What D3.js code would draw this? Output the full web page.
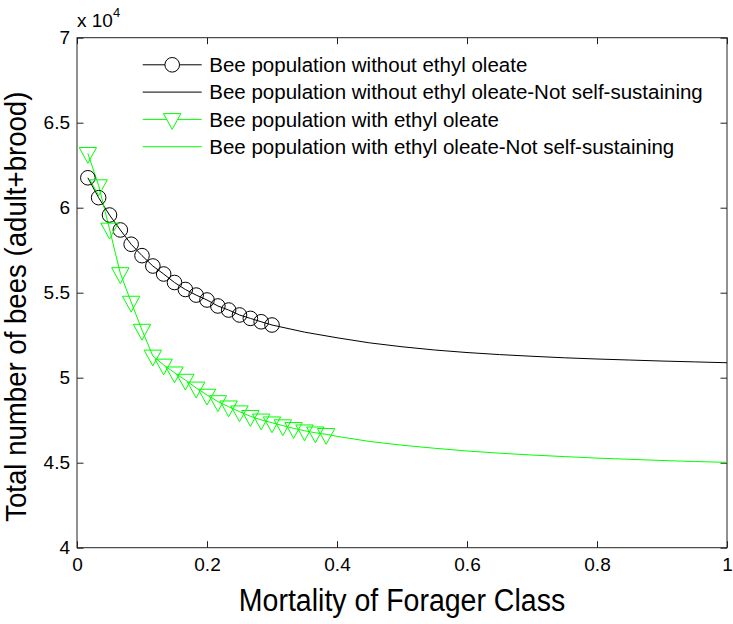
<!DOCTYPE html>
<html>
<head>
<meta charset="utf-8">
<script src="https://cdn.jsdelivr.net/npm/d3@7"></script>
<style>
  html, body { margin: 0; padding: 0; background: #fff; }
  svg { display: block; }
  text { font-family: "Liberation Sans", Arial, Helvetica, sans-serif; fill: #000; }
</style>
</head>
<body>
<svg id="chart" width="733" height="624"></svg>
<script>
// ---- data (values in units of 10^4 bees) ----
const circleX = [0.0167, 0.0333, 0.05, 0.0667, 0.0833, 0.10, 0.1167, 0.1333, 0.15,
                 0.1667, 0.1833, 0.20, 0.2167, 0.2333, 0.25, 0.2667, 0.2833, 0.30];
const circleY = [6.176, 6.059, 5.957, 5.869, 5.785, 5.718, 5.657, 5.610, 5.560,
                 5.519, 5.486, 5.457, 5.422, 5.398, 5.369, 5.349, 5.329, 5.310];

const blackTailX = [0.30, 0.35, 0.40, 0.45, 0.50, 0.55, 0.60, 0.65, 0.70, 0.75, 0.80, 0.85, 0.90, 0.95, 1.00];
const blackTailY = [5.310, 5.268, 5.235, 5.205, 5.182, 5.163, 5.148, 5.136, 5.126, 5.117, 5.110, 5.104, 5.098, 5.093, 5.088];

const triX = [0.0167, 0.0333, 0.05, 0.0667, 0.0833, 0.10, 0.1167, 0.1333, 0.15, 0.1667,
              0.1833, 0.20, 0.2167, 0.2333, 0.25, 0.2667, 0.2833, 0.30, 0.3167, 0.3333,
              0.35, 0.3667, 0.3833];
const triY = [6.320, 6.130, 5.875, 5.613, 5.445, 5.280, 5.128, 5.075, 5.029, 4.986,
              4.940, 4.898, 4.860, 4.829, 4.800, 4.773, 4.752, 4.735, 4.718, 4.702,
              4.688, 4.676, 4.667];

const greenTailX = [0.3833, 0.40, 0.45, 0.50, 0.55, 0.60, 0.65, 0.70, 0.75, 0.80, 0.85, 0.90, 0.95, 1.00];
const greenTailY = [4.667, 4.655, 4.625, 4.603, 4.585, 4.569, 4.556, 4.545, 4.536, 4.527, 4.520, 4.513, 4.507, 4.502];

const xTicks = [0, 0.2, 0.4, 0.6, 0.8, 1];
const xTickLabels = ["0", "0.2", "0.4", "0.6", "0.8", "1"];
const yTicks = [4, 4.5, 5, 5.5, 6, 6.5, 7];
const yTickLabels = ["4", "4.5", "5", "5.5", "6", "6.5", "7"];

const legendLabels = [
  "Bee population without ethyl oleate",
  "Bee population without ethyl oleate-Not self-sustaining",
  "Bee population with ethyl oleate",
  "Bee population with ethyl oleate-Not self-sustaining"
];

const xLabel = "Mortality of Forager Class";
const yLabel = "Total number of bees (adult+brood)";

// ---- layout ----
const L = 77, R = 727, T = 37.7, B = 547.7;
const BLACK = "#000000", GREEN = "#00ff00";

const svg = d3.select("#chart");
const x = d3.scaleLinear().domain([0, 1]).range([L, R]);
const y = d3.scaleLinear().domain([4, 7]).range([B, T]);

const zip = (a, b) => a.map((v, i) => [v, b[i]]);
const line = d3.line().x(d => x(d[0])).y(d => y(d[1]));

// axes ticks (inward) on all four sides
const tickLen = 6.5;
const axB = d3.axisBottom(x).tickValues(xTicks).tickSize(-tickLen).tickPadding(10)
  .tickFormat((d, i) => xTickLabels[i]);
const axT = d3.axisTop(x).tickValues(xTicks).tickSize(-tickLen).tickFormat("");
const axL = d3.axisLeft(y).tickValues(yTicks).tickSize(-tickLen).tickPadding(7)
  .tickFormat((d, i) => yTickLabels[i]);
const axR = d3.axisRight(y).tickValues(yTicks).tickSize(-tickLen).tickFormat("");

function styleAxis(g) {
  g.select(".domain").remove();
  g.selectAll(".tick line").attr("stroke", "#222").attr("stroke-width", 1);
  g.selectAll(".tick text").attr("fill", "#000")
    .style("font-family", '"Liberation Sans", Arial, Helvetica, sans-serif')
    .style("font-size", "19px");
}

svg.append("g").attr("transform", `translate(0,${B})`).call(axB).call(styleAxis)
  .selectAll(".tick text").attr("dy", "0.71em");
svg.append("g").attr("transform", `translate(0,${T})`).call(axT).call(styleAxis);
svg.append("g").attr("transform", `translate(${L},0)`).call(axL).call(styleAxis);
svg.append("g").attr("transform", `translate(${R},0)`).call(axR).call(styleAxis);

// frame
svg.append("rect").attr("x", L).attr("y", T).attr("width", R - L).attr("height", B - T)
  .attr("fill", "none").attr("stroke", "#222").attr("stroke-width", 1);

// exponent label
const expo = svg.append("text").attr("x", L).attr("y", 26.5).style("font-size", "19px");
expo.append("tspan").text("x 10");
expo.append("tspan").attr("dy", -10).style("font-size", "13px").text("4");

// ---- series ----
const g = svg.append("g");

// black line through circles + tail
g.append("path").datum(zip(circleX, circleY)).attr("d", line)
  .attr("fill", "none").attr("stroke", BLACK).attr("stroke-width", 1);
g.append("path").datum(zip(blackTailX, blackTailY)).attr("d", line)
  .attr("fill", "none").attr("stroke", BLACK).attr("stroke-width", 1);

// green line through triangles + tail
g.append("path").datum(zip(triX, triY)).attr("d", line)
  .attr("fill", "none").attr("stroke", GREEN).attr("stroke-width", 1);
g.append("path").datum(zip(greenTailX, greenTailY)).attr("d", line)
  .attr("fill", "none").attr("stroke", GREEN).attr("stroke-width", 1);

const rC = 7.3;
g.selectAll("circle.m").data(zip(circleX, circleY)).join("circle")
  .attr("class", "m").attr("cx", d => x(d[0])).attr("cy", d => y(d[1])).attr("r", rC)
  .attr("fill", "none").attr("stroke", BLACK).attr("stroke-width", 1);

const triPath = (cx, cy) => `M${cx - 8.7},${cy - 5.8}L${cx + 8.7},${cy - 5.8}L${cx},${cy + 10}Z`;
g.selectAll("path.t").data(zip(triX, triY)).join("path")
  .attr("class", "t").attr("d", d => triPath(x(d[0]), y(d[1])))
  .attr("fill", "none").attr("stroke", GREEN).attr("stroke-width", 1);

// ---- legend ----
const legY0 = 64.8, legDy = 27.3, lx0 = 142.7, lx1 = 201.7, tx = 209.3;
const leg = svg.append("g");
legendLabels.forEach((lab, i) => {
  const yy = legY0 + i * legDy;
  const col = i < 2 ? BLACK : GREEN;
  leg.append("line").attr("x1", lx0).attr("x2", lx1).attr("y1", yy).attr("y2", yy)
    .attr("stroke", col).attr("stroke-width", 1);
  const cx = (lx0 + lx1) / 2;
  if (i === 0) {
    leg.append("circle").attr("cx", cx).attr("cy", yy).attr("r", rC)
      .attr("fill", "#fff").attr("stroke", BLACK).attr("stroke-width", 1);
  } else if (i === 2) {
    leg.append("path").attr("d", triPath(cx, yy))
      .attr("fill", "#fff").attr("stroke", GREEN).attr("stroke-width", 1);
  }
  leg.append("text").attr("x", tx).attr("y", yy + 7.3).style("font-size", "20.5px").text(lab);
});

// ---- axis labels ----
svg.append("text").attr("text-anchor", "middle")
  .attr("transform", `translate(${(L + R) / 2},611) scale(0.92,1)`)
  .style("font-size", "31px").text(xLabel);
svg.append("text").attr("text-anchor", "middle")
  .attr("transform", `translate(26,${(T + B) / 2 + 14}) rotate(-90) scale(0.92,1)`)
  .style("font-size", "30px").text(yLabel);
</script>
</body>
</html>
